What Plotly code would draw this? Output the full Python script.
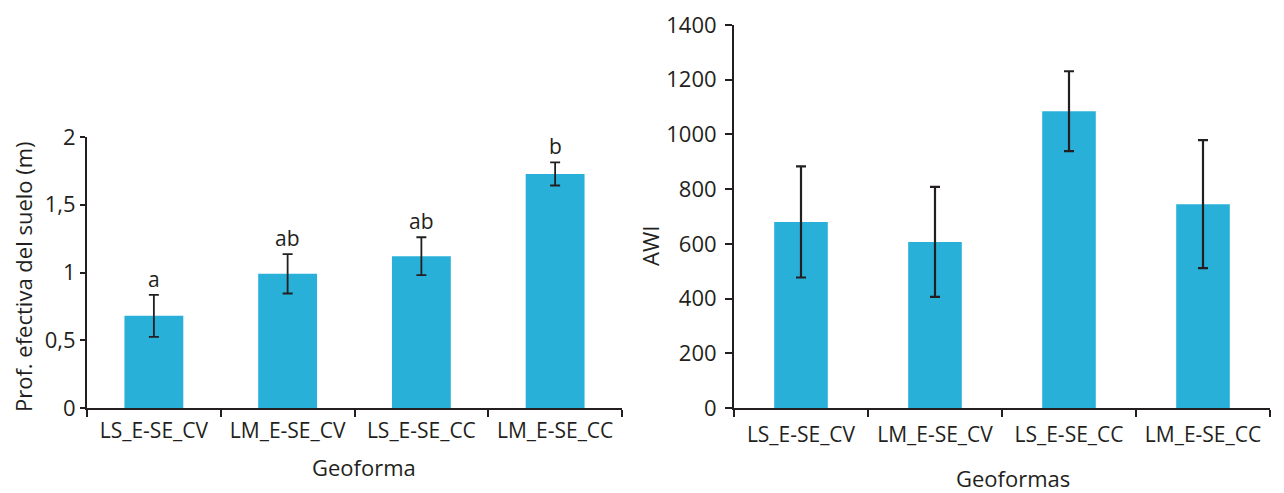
import plotly.graph_objects as go

categories = ["LS_E-SE_CV", "LM_E-SE_CV", "LS_E-SE_CC", "LM_E-SE_CC"]
prof_values = [0.68, 0.99, 1.12, 1.727]
prof_errors = [0.155, 0.145, 0.14, 0.085]
prof_letters = ["a", "ab", "ab", "b"]
awi_values = [680, 607, 1085, 745]
awi_errors = [203, 201, 146, 234]
prof_tickvals = [0, 0.5, 1, 1.5, 2]
prof_ticktext = ["0", "0,5", "1", "1,5", "2"]
awi_tickvals = [0, 200, 400, 600, 800, 1000, 1200, 1400]
awi_ticktext = ["0", "200", "400", "600", "800", "1000", "1200", "1400"]

BAR = "#29B0D9"
INK = "#231F20"
FONT = "Open Sans"

# page body has an 8px margin: figure is sized to fit the viewport
OFF = 8
W, H = 1284 - OFF, 493 - OFF


def px(X):
    return (X - OFF) / W


def py(Y):
    return (493 - Y) / H


fig = go.Figure()
fig.add_trace(go.Bar(
    x=categories, y=prof_values, marker=dict(color=BAR, line=dict(width=0)),
    width=0.44,
    error_y=dict(type="data", array=prof_errors, visible=True, color=INK, thickness=1.8, width=5),
    xaxis="x", yaxis="y", showlegend=False))
fig.add_trace(go.Bar(
    x=categories, y=awi_values, marker=dict(color=BAR, line=dict(width=0)),
    width=0.4,
    error_y=dict(type="data", array=awi_errors, visible=True, color=INK, thickness=2.2, width=5),
    xaxis="x2", yaxis="y2", showlegend=False))

axis_common = dict(showline=True, linecolor=INK, linewidth=2, showgrid=False, zeroline=False,
                   ticks="outside", tickcolor=INK, tickwidth=2, automargin=False)

fig.update_layout(
    width=W, height=H,
    margin=dict(l=0, r=0, t=0, b=0),
    paper_bgcolor="white", plot_bgcolor="white",
    font=dict(family=FONT, color=INK),
    xaxis=dict(domain=[px(87), px(622)], anchor="y", tickson="boundaries", ticklen=7,
               tickfont=dict(size=21), ticklabelstandoff=3, **axis_common),
    yaxis=dict(domain=[py(408), py(137)], anchor="x", range=[0, 2], ticklen=5,
               tickvals=prof_tickvals, ticktext=prof_ticktext, tickfont=dict(size=22),
               ticklabelstandoff=0, **axis_common),
    xaxis2=dict(domain=[px(734), px(1270)], anchor="y2", tickson="boundaries", ticklen=7,
                tickfont=dict(size=21), ticklabelstandoff=7, **axis_common),
    yaxis2=dict(domain=[py(408), py(25)], anchor="x2", range=[0, 1400], ticklen=7,
                tickvals=awi_tickvals, ticktext=awi_ticktext, tickfont=dict(size=22),
                ticklabelstandoff=4, **axis_common),
)

annotations = []
for c, v, e, l in zip(categories, prof_values, prof_errors, prof_letters):
    annotations.append(dict(x=c, y=v + e, xref="x", yref="y", text=l, showarrow=False,
                            xanchor="center", yanchor="bottom", yshift=0,
                            font=dict(size=21, color=INK)))
title_common = dict(xref="paper", yref="paper", showarrow=False,
                    xanchor="center", yanchor="middle")
annotations += [
    dict(text="Prof. efectiva del suelo (m)", x=px(23), y=py(277), textangle=-90,
         font=dict(size=22, color=INK), **title_common),
    dict(text="AWI", x=px(650), y=py(246), textangle=-90,
         font=dict(size=22, color=INK), **title_common),
    dict(text="Geoforma", x=px(364), y=py(467),
         font=dict(size=22, color=INK), **title_common),
    dict(text="Geoformas", x=px(1013), y=py(478),
         font=dict(size=22, color=INK), **title_common),
]
fig.update_layout(annotations=annotations)

fig.write_html("out.html")
